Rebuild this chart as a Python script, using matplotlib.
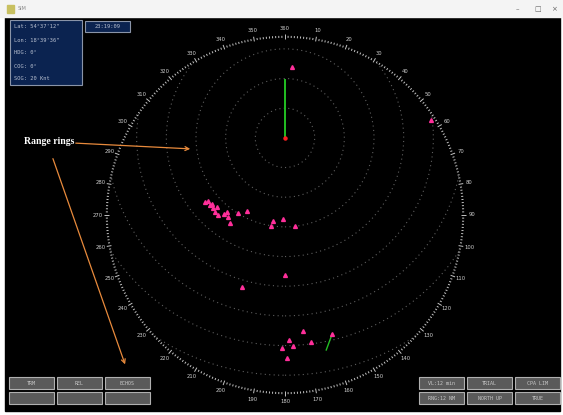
import numpy as np
import matplotlib
matplotlib.use("Agg")
import matplotlib.pyplot as plt
from matplotlib.patches import Circle, Rectangle

# --- radar data (nautical miles, own ship at origin, x = east, y = north) ---
px_per_nm = 29.67
display_radius_nm = 6.0
own_ship_offset_nm = 2.6          # own ship sits north of the display centre
ring_spacing_nm = 1.0
heading_line_nm = 1.95

target_x_nm = [0.24, 4.93, -2.70, -2.60, -2.53, -2.43, -2.36, -2.26, -2.29, -2.46, -1.95,
               -1.92, -1.85, -2.05, -1.58, -1.28, -0.40, -0.47, -0.07, 0.34, 0.00, -1.45,
               0.61, 0.13, 0.27, -0.10, 0.07, 0.88, 1.59]
target_y_nm = [2.40, 0.61, -2.16, -2.12, -2.26, -2.36, -2.49, -2.60, -2.33, -2.22, -2.49,
               -2.66, -2.86, -2.56, -2.53, -2.46, -2.80, -2.97, -2.73, -2.97, -4.62, -5.02,
               -6.50, -6.81, -7.01, -7.08, -7.42, -6.88, -6.61]
vector_dx_nm = -0.20
vector_dy_nm = -0.54

bearing_labels = [str(b if b else 360) for b in range(0, 360, 10)]

info_lines = ["Lat: 54\u00b037'12\"", "Lon: 18\u00b039'36\"", "HDG: 0\u00b0", "COG: 0\u00b0", "SOG: 20 Knt"]
clock_text = "23:19:09"
left_buttons = ["TRM", "REL", "ECHOS", "", "", ""]
right_buttons = ["VL:12 min", "TRIAL", "CPA LIM", "RNG:12 NM", "NORTH UP", "TRUE"]

W, H = 563, 415
cx_px, cy_px = 285, 215            # display centre in screen pixels

fig = plt.figure(figsize=(W / 100, H / 100), dpi=100, facecolor="white")

# UI layer in pixel coordinates
ui = fig.add_axes([0, 0, 1, 1])
ui.set_xlim(0, W)
ui.set_ylim(H, 0)
ui.axis("off")
ui.add_patch(Rectangle((5, 17), 555, 394, color="black", zorder=0))
ui.add_patch(Rectangle((0, 0), W, 17, color="#f4f4f4", zorder=0))
ui.add_patch(Rectangle((7, 5), 7, 8, color="#c8c060", zorder=1))
ui.text(18, 9, "SIM", fontsize=3.5, color="#888888", va="center")
for x, s in [(517, "\u2013"), (538, "\u25a1"), (554, "\u00d7")]:
    ui.text(x, 9, s, fontsize=5, color="#666666", ha="center", va="center")

# radar layer in nautical miles, display centre at (0, 0)
ax = fig.add_axes([0, 0, 1, 1])
ax.set_xlim(-cx_px / px_per_nm, (W - cx_px) / px_per_nm)
ax.set_ylim(-(H - cy_px) / px_per_nm, cy_px / px_per_nm)
ax.axis("off")
ax.patch.set_alpha(0)

# outer bearing ring: one tick per degree
R = display_radius_nm
for deg in range(360):
    a = np.deg2rad(deg)
    r0, r1 = (R - 0.06, R + 0.1) if deg % 10 == 0 else (R - 0.03, R + 0.04)
    ax.plot([r0 * np.sin(a), r1 * np.sin(a)], [r0 * np.cos(a), r1 * np.cos(a)],
            color="#c4c4c4", lw=0.7, solid_capstyle="butt")
for deg, lab in zip(range(0, 360, 10), bearing_labels):
    a = np.deg2rad(deg)
    rl = R + 0.3
    ax.text(rl * np.sin(a), rl * np.cos(a), lab, fontsize=3.8, color="#cfcfcf",
            ha="center", va="center")

# range rings around own ship, clipped to the display circle
clip = Circle((0, 0), R, transform=ax.transData, facecolor="none", edgecolor="none")
ax.add_patch(clip)
oy = own_ship_offset_nm
for k in range(1, 10):
    ring = Circle((0, oy), k * ring_spacing_nm, fill=False, edgecolor="#5e5e5e",
                  lw=0.8, linestyle=(0, (1, 3)))
    ax.add_patch(ring)
    ring.set_clip_path(clip)

# own ship + heading line
ax.plot([0, 0], [oy, oy + heading_line_nm], color="#22c022", lw=1.4, zorder=5)
ax.plot(0, oy, "o", color="#ff2020", ms=2.2, zorder=6)

# targets
tx = np.array(target_x_nm)
ty = np.array(target_y_nm) + oy
ax.plot(tx, ty, "^", color="#ff2f9a", ms=2.8, mec="#ff2f9a", ls="none", zorder=6)
ax.plot([tx[-1], tx[-1] + vector_dx_nm], [ty[-1], ty[-1] + vector_dy_nm],
        color="#22c022", lw=1.0, zorder=5)

# overlay: info panel, clock, buttons, annotation
top = fig.add_axes([0, 0, 1, 1])
top.set_xlim(0, W)
top.set_ylim(H, 0)
top.axis("off")
top.patch.set_alpha(0)

top.add_patch(Rectangle((10, 20), 72, 65, facecolor="#0b2350", edgecolor="#8a94a8", lw=0.8))
for i, line in enumerate(info_lines):
    top.text(14, 27 + i * 13, line, fontsize=3.9, color="#b8c0d0",
             family="DejaVu Sans Mono", va="center")
top.add_patch(Rectangle((85, 21), 45, 11, facecolor="#0b2350", edgecolor="#8a94a8", lw=0.8))
top.text(107.5, 26.5, clock_text, fontsize=3.9, color="#b8c0d0",
         family="DejaVu Sans Mono", ha="center", va="center")

def draw_buttons(x0, labels):
    bw, bh, gap = 45, 12, 3
    for i, lab in enumerate(labels):
        col, row = i % 3, i // 3
        x = x0 + col * (bw + gap)
        y = 377 + row * (bh + 3)
        top.add_patch(Rectangle((x, y), bw, bh, facecolor="#5a5a5a", edgecolor="#b0b0b0", lw=0.8))
        top.text(x + bw / 2, y + bh / 2, lab, fontsize=3.6, color="#c8c8c8",
                 ha="center", va="center", family="DejaVu Sans Mono")

draw_buttons(9, left_buttons)
draw_buttons(419, right_buttons)

top.text(24, 141, "Range rings", fontsize=7, color="white", family="Liberation Serif",
         weight="bold", va="center")
arrow_style = dict(arrowstyle="->", color="#e88a3c", lw=0.9, mutation_scale=7)
top.annotate("", xy=(193, 149), xytext=(73, 143), arrowprops=arrow_style)
top.annotate("", xy=(126, 367), xytext=(52, 156), arrowprops=arrow_style)

fig.savefig("out.png", dpi=100, facecolor="white")
